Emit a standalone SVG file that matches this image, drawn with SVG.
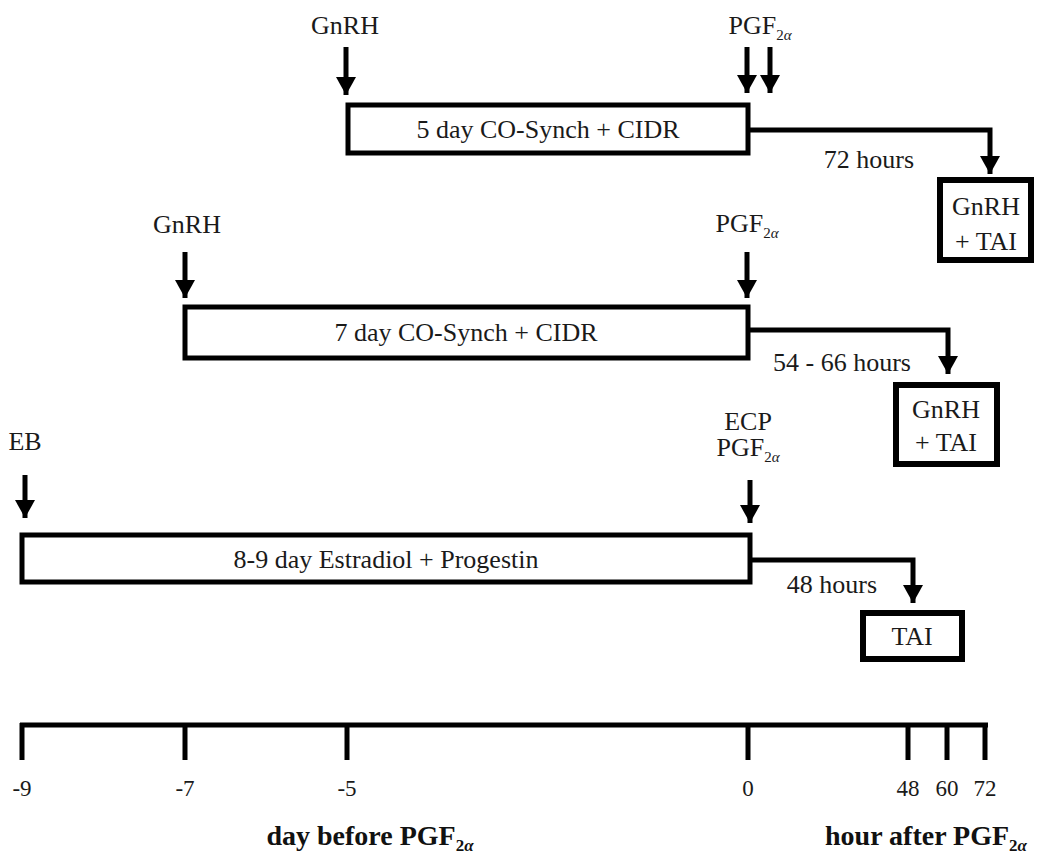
<svg xmlns="http://www.w3.org/2000/svg" width="1047" height="862" viewBox="0 0 1047 862">
<style>
text{font-family:"Liberation Serif","Times New Roman",serif;font-size:26px;fill:#1a1a1a;text-anchor:middle}
.sub{font-size:15px}
.t{font-size:23px}
.b{font-weight:bold;font-size:28px;fill:#111}
.bs{font-size:17px}
.box{fill:#fff;stroke:#000;stroke-width:5}
.box6{fill:#fff;stroke:#000;stroke-width:6}
.arr{fill:none;stroke:#000;stroke-width:5;marker-end:url(#ah)}
.con{fill:none;stroke:#000;stroke-width:5;stroke-linejoin:miter;marker-end:url(#ah)}
.ax{stroke:#000;stroke-width:5}
</style>
<defs>
<marker id="ah" markerUnits="userSpaceOnUse" markerWidth="22" markerHeight="20" refX="18" refY="10" orient="auto">
<path d="M0,0 L18,10 L0,20 Z" fill="#000"/>
</marker>
</defs>
<rect width="1047" height="862" fill="#fff"/>
<g id="row1">
<text x="345" y="34">GnRH</text>
<text x="760" y="34">PGF<tspan class="sub" dy="6">2<tspan font-style="italic">α</tspan></tspan></text>
<g id="box1"><rect class="box" x="348" y="105" width="400" height="48"/><text x="548" y="138">5 day CO-Synch + CIDR</text></g>
<g id="tai1"><rect class="box6" x="940" y="180" width="91" height="80"/><text x="986" y="215">GnRH</text><text x="986" y="250">+ TAI</text></g>
<text x="869" y="168">72 hours</text>
</g>
<g id="row2">
<text x="187" y="233">GnRH</text>
<text x="747" y="232">PGF<tspan class="sub" dy="6">2<tspan font-style="italic">α</tspan></tspan></text>
<g id="box2"><rect class="box" x="185" y="307" width="563" height="51"/><text x="466" y="341">7 day CO-Synch + CIDR</text></g>
<g id="tai2"><rect class="box6" x="896" y="385" width="101" height="79"/><text x="946" y="418">GnRH</text><text x="946" y="451">+ TAI</text></g>
<text x="842" y="371">54 - 66 hours</text>
</g>
<g id="row3">
<text x="25" y="450">EB</text>
<text x="748" y="430">ECP</text>
<text x="748" y="456">PGF<tspan class="sub" dy="6">2<tspan font-style="italic">α</tspan></tspan></text>
<g id="box3"><rect class="box" x="22" y="535" width="728" height="47"/><text x="386" y="568">8-9 day Estradiol + Progestin</text></g>
<g id="tai3"><rect class="box6" x="863" y="613" width="99" height="46"/><text x="912" y="645">TAI</text></g>
<text x="832" y="593">48 hours</text>
</g>
<g id="connectors">
<path class="arr" d="M346,47 V95"/>
<path class="arr" d="M747,47 V93"/>
<path class="arr" d="M770,47 V93"/>
<path class="con" d="M750,130 H990 V174"/>
<path class="arr" d="M185,252 V298"/>
<path class="arr" d="M747,252 V298"/>
<path class="con" d="M750,330 H948 V374"/>
<path class="arr" d="M25,475 V518"/>
<path class="arr" d="M750,480 V523"/>
<path class="con" d="M752,560 H913 V603"/>
</g>
<g id="axis">
<line class="ax" x1="20" y1="725" x2="988" y2="725" stroke-width="6"/>
<path class="ax" d="M22,723 V760 M185,723 V760 M347,723 V760 M748,723 V760 M908,723 V760 M947,723 V760 M985,723 V760"/>
<text class="t" x="22" y="796">-9</text>
<text class="t" x="185" y="796">-7</text>
<text class="t" x="347" y="796">-5</text>
<text class="t" x="748" y="796">0</text>
<text class="t" x="908" y="796">48</text>
<text class="t" x="947" y="796">60</text>
<text class="t" x="985" y="796">72</text>
<text class="b" x="370" y="845">day before PGF<tspan class="bs" dy="6">2<tspan font-style="italic">α</tspan></tspan></text>
<text class="b" x="926" y="845">hour after PGF<tspan class="bs" dy="6">2<tspan font-style="italic">α</tspan></tspan></text>
</g>
</svg>
